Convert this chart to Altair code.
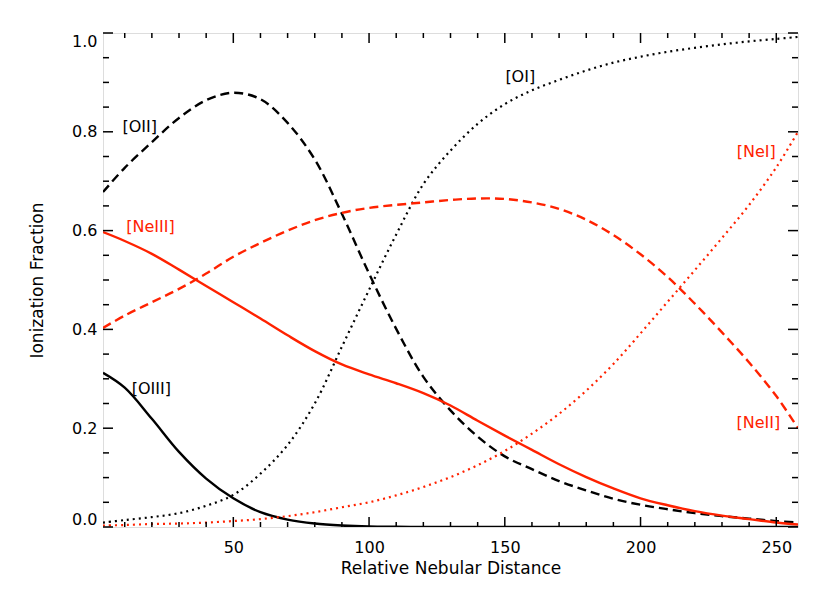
import altair as alt
import pandas as pd

# ---- data ----
distance = [2, 10, 20, 30, 40, 50, 60, 70, 80, 90, 100, 110, 120, 130, 140,
            150, 160, 170, 180, 190, 200, 210, 220, 230, 240, 250, 258]

o2 = [0.678, 0.727, 0.779, 0.828, 0.864, 0.879, 0.866, 0.818, 0.744, 0.634, 0.513,
      0.401, 0.304, 0.236, 0.183, 0.143, 0.117, 0.093, 0.074, 0.057, 0.045,
      0.036, 0.028, 0.022, 0.017, 0.012, 0.009]
o1 = [0.009, 0.014, 0.020, 0.028, 0.043, 0.065, 0.108, 0.166, 0.250, 0.365, 0.480,
      0.592, 0.694, 0.762, 0.816, 0.856, 0.884, 0.905, 0.924, 0.940, 0.952,
      0.962, 0.970, 0.977, 0.983, 0.988, 0.992]
o3 = [0.312, 0.282, 0.219, 0.152, 0.098, 0.058, 0.030, 0.015, 0.007, 0.003, 0.001,
      0.0005, 0.0002, 0, 0, 0, 0, 0, 0, 0, 0, 0, 0, 0, 0, 0, 0]
ne3 = [0.597, 0.579, 0.553, 0.521, 0.488, 0.455, 0.422, 0.388, 0.356, 0.329, 0.309,
       0.291, 0.271, 0.246, 0.215, 0.185, 0.156, 0.127, 0.101, 0.078, 0.058,
       0.044, 0.032, 0.023, 0.016, 0.009, 0.005]
ne2 = [0.403, 0.428, 0.455, 0.482, 0.513, 0.547, 0.575, 0.600, 0.621, 0.636, 0.646,
       0.652, 0.657, 0.662, 0.665, 0.664, 0.657, 0.644, 0.622, 0.591, 0.552,
       0.506, 0.452, 0.394, 0.333, 0.265, 0.200]
ne1 = [0.003, 0.004, 0.006, 0.007, 0.009, 0.012, 0.016, 0.022, 0.030, 0.040, 0.050,
       0.064, 0.081, 0.101, 0.125, 0.154, 0.189, 0.229, 0.276, 0.330, 0.392,
       0.456, 0.520, 0.585, 0.652, 0.728, 0.800]

black_labels = ["[OII]", "[OI]", "[OIII]"]
black_label_x = [15.5, 155.7, 19.8]
black_label_y = [0.809, 0.91, 0.279]
red_labels = ["[NeIII]", "[NeI]", "[NeII]"]
red_label_x = [19.5, 242.6, 243.4]
red_label_y = [0.608, 0.759, 0.21]

x_major = [50, 100, 150, 200, 250]
x_minor = [10, 20, 30, 40, 60, 70, 80, 90, 110, 120, 130, 140, 160, 170, 180,
           190, 210, 220, 230, 240]
y_major = [0.0, 0.2, 0.4, 0.6, 0.8, 1.0]
y_minor = [0.05, 0.1, 0.15, 0.25, 0.3, 0.35, 0.45, 0.5, 0.55, 0.65, 0.7, 0.75,
           0.85, 0.9, 0.95]

# ---- chart ----
W, H = 695, 494
FONT = "DejaVu Sans"
RED = "#ff2200"
xs = alt.Scale(domain=[2, 258], nice=False, zero=False)
ys = alt.Scale(domain=[0, 1], nice=False, zero=False)

x_axis = alt.Axis(values=x_major, title="Relative Nebular Distance", format="d",
                  ticks=False, tickSize=0, domain=False, grid=False,
                  labelFont=FONT, labelFontSize=16, labelColor="black", labelPadding=12,
                  titleFont=FONT, titleFontSize=17, titleFontWeight="normal",
                  titleColor="black", titlePadding=5)
y_axis = alt.Axis(values=y_major, title="Ionization Fraction", format=".1f",
                  ticks=False, tickSize=0, domain=False, grid=False, labelFlush=True,
                  labelFont=FONT, labelFontSize=16, labelColor="black", labelPadding=6,
                  titleFont=FONT, titleFontSize=17, titleFontWeight="normal",
                  titleColor="black", titlePadding=25)


def X(field):
    return alt.X(field, scale=xs, axis=x_axis)


def Y(field):
    return alt.Y(field, scale=ys, axis=y_axis)


def curve(values, color, width, dash=None):
    df = pd.DataFrame({"d": distance, "f": values})
    kw = dict(color=color, strokeWidth=width, interpolate="catmull-rom", clip=True)
    if dash is not None:
        kw["strokeDash"] = dash
    return alt.Chart(df).mark_line(**kw).encode(x=X("d:Q"), y=Y("f:Q"))


DASH = [9, 5]
DOT = [2, 4]
layers = [
    curve(o2, "black", 2.4, DASH),
    curve(o1, "black", 2.2, DOT),
    curve(o3, "black", 2.4),
    curve(ne3, RED, 2.4),
    curve(ne2, RED, 2.4, DASH),
    curve(ne1, RED, 2.2, DOT),
]


def text_layer(labels, lx, ly, color):
    df = pd.DataFrame({"d": lx, "f": ly, "t": labels})
    return alt.Chart(df).mark_text(font=FONT, fontSize=16, color=color,
                                   align="center", baseline="middle").encode(
        x=X("d:Q"), y=Y("f:Q"), text="t:N")


layers.append(text_layer(black_labels, black_label_x, black_label_y, "black"))
layers.append(text_layer(red_labels, red_label_x, red_label_y, RED))


def xticks(vals, length):
    df = pd.DataFrame({"d": vals})
    base = alt.Chart(df).mark_rule(color="black", strokeWidth=1.5)
    bottom = base.encode(x=X("d:Q"), y=alt.value(H), y2=alt.value(H - length))
    top = base.encode(x=X("d:Q"), y=alt.value(0), y2=alt.value(length))
    return [bottom, top]


def yticks(vals, length):
    df = pd.DataFrame({"f": vals})
    base = alt.Chart(df).mark_rule(color="black", strokeWidth=1.5)
    left = base.encode(y=Y("f:Q"), x=alt.value(0), x2=alt.value(length))
    right = base.encode(y=Y("f:Q"), x=alt.value(W), x2=alt.value(W - length))
    return [left, right]


layers += xticks(x_major, 10) + xticks(x_minor, 5)
layers += yticks(y_major, 10) + yticks(y_minor, 6)

chart = alt.layer(*layers).properties(
    width=W, height=H,
    autosize=alt.AutoSizeParams(type="none"),
    padding={"left": 95, "top": 25, "right": 15, "bottom": 55},
).configure_view(stroke="black", strokeWidth=2).configure(background="white")

chart.save("out.html", embed_options={"renderer": "svg", "actions": False})
